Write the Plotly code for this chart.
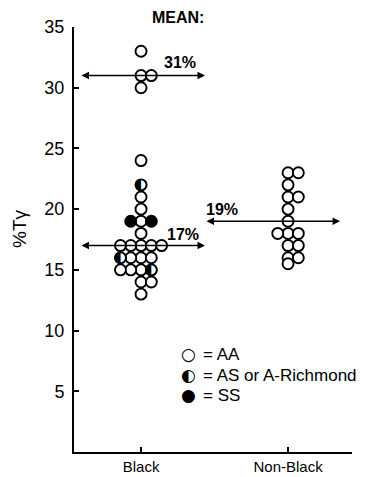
import plotly.graph_objects as go

# ---------------- data ----------------
categories = ["Black", "Non-Black"]
y_tick_values = [5, 10, 15, 20, 25, 30, 35]

black_values = [33, 31, 31, 30, 24, 22, 21, 20, 19, 19, 19, 18,
                17, 17, 17, 17, 17, 16, 16, 16, 16, 15, 15, 15, 15, 14, 14, 13]
black_types = ["AA", "AA", "AA", "AA", "AA", "AS", "AA", "AA", "AA", "SS", "SS", "AA",
               "AA", "AA", "AA", "AA", "AA", "AA", "AA", "AA", "AS", "AA", "AS", "AA", "AA",
               "AA", "AA", "AA"]

nonblack_values = [23, 23, 22, 21, 21, 20, 19, 18, 18, 18, 17, 17, 16, 16, 15.5]
nonblack_types = ["AA"] * len(nonblack_values)

mean_values = [31, 17, 19]
mean_groups = [0, 0, 1]
mean_labels = ["31%", "17%", "19%"]

legend_symbols = ["○", "◐", "●"]
legend_texts = ["= AA", "= AS or A-Richmond", "= SS"]

# ---------------- geometry ----------------
W, H = 373, 477
L, R, T, B = 74, 21, 27, 25
pw, ph = W - L - R, H - T - B
XMIN, XMAX = -0.456, 1.435
STEP = 0.07
ORDER = [0, 1, -1, -2, 2, -3, 3]


def px_x(px):
    return (px - L) / pw


def px_y(py):
    return (H - B - py) / ph


def dodge(values, center):
    counts = {}
    xs = []
    for v in values:
        k = counts.get(v, 0)
        xs.append(center + ORDER[k] * STEP)
        counts[v] = k + 1
    return xs


xb = dodge(black_values, 0)
xn = dodge(nonblack_values, 1)
all_x = xb + xn
all_y = black_values + nonblack_values
all_t = black_types + nonblack_types

fig = go.Figure()


def sub(t):
    return ([x for x, tt in zip(all_x, all_t) if tt == t],
            [y for y, tt in zip(all_y, all_t) if tt == t])


MS = 11
for t in ["AA", "AS"]:
    x, y = sub(t)
    fig.add_trace(go.Scatter(x=x, y=y, mode="markers", showlegend=False, hoverinfo="skip",
                             marker=dict(symbol="circle", size=MS, color="white",
                                         line=dict(color="black", width=1.9))))
x, y = sub("AS")
fig.add_trace(go.Scatter(x=x, y=y, mode="text", text=["◐"] * len(x), showlegend=False,
                         textposition="middle center", hoverinfo="skip",
                         textfont=dict(family="DejaVu Sans", size=16, color="black")))
x, y = sub("SS")
fig.add_trace(go.Scatter(x=x, y=y, mode="markers", showlegend=False, hoverinfo="skip",
                         marker=dict(symbol="circle", size=MS, color="black",
                                     line=dict(color="black", width=1.9))))

# mean arrows (extent relative to group position)
arrow_extents = [(-0.415, 0.435), (-0.415, 0.435), (-0.565, 0.354)]
for m, g, (e0, e1) in zip(mean_values, mean_groups, arrow_extents):
    fig.add_annotation(x=g + e1, y=m, ax=g + e0, ay=m, xref="x", yref="y", axref="x", ayref="y",
                       showarrow=True, arrowhead=2, arrowside="end+start", arrowsize=1,
                       arrowwidth=1.5, arrowcolor="black", text="")

label_px = [(180, 62), (183, 234), (222, 209)]
for (lx, ly), lab in zip(label_px, mean_labels):
    fig.add_annotation(x=px_x(lx), y=px_y(ly), xref="paper", yref="paper", text=lab,
                       showarrow=False, xanchor="center", yanchor="middle",
                       font=dict(family="Liberation Sans", size=16, color="black", weight="bold"))
fig.add_annotation(x=px_x(178), y=px_y(18), xref="paper", yref="paper", text="MEAN:",
                   showarrow=False, xanchor="center", yanchor="middle",
                   font=dict(family="Liberation Sans", size=16, color="black", weight="bold"))
fig.add_annotation(x=px_x(20), y=px_y(228), xref="paper", yref="paper", text="%Tγ",
                   showarrow=False, xanchor="center", yanchor="middle", textangle=-90,
                   font=dict(family="Liberation Sans", size=19, color="black"))

# legend (glyph keys)
leg_rows = [354, 375, 395]
for s, tx, py in zip(legend_symbols, legend_texts, leg_rows):
    fig.add_annotation(x=px_x(188), y=px_y(py), xref="paper", yref="paper",
                       text=s, showarrow=False, xanchor="center", yanchor="middle",
                       font=dict(family="DejaVu Sans", size=17, color="black"))
    fig.add_annotation(x=px_x(201), y=px_y(py), xref="paper", yref="paper",
                       text=tx, showarrow=False, xanchor="left", yanchor="middle",
                       font=dict(family="Liberation Sans", size=17, color="black"))

fig.update_layout(
    width=W, height=H,
    margin=dict(l=L, r=R, t=T, b=B, autoexpand=False),
    paper_bgcolor="white", plot_bgcolor="white",
    showlegend=False, hovermode=False,
    xaxis=dict(range=[XMIN, XMAX], tickvals=[0, 1], ticktext=categories, automargin=False,
               showline=True, linecolor="black", linewidth=2, ticks="inside",
               ticklen=5, tickwidth=1.5, tickcolor="black", showgrid=False, zeroline=False,
               tickfont=dict(family="Liberation Sans", size=15, color="black")),
    yaxis=dict(range=[0, 35], tickvals=y_tick_values, showline=True, linecolor="black",
               linewidth=2, ticks="inside", ticklen=5, tickwidth=1.5, tickcolor="black",
               showgrid=False, zeroline=False, ticklabelstandoff=4, automargin=False,
               tickfont=dict(family="Liberation Sans", size=18, color="black")),
)

fig.write_html("out.html", config={"displayModeBar": False},
               post_script="document.body.style.margin='0';document.body.style.padding='0';")
